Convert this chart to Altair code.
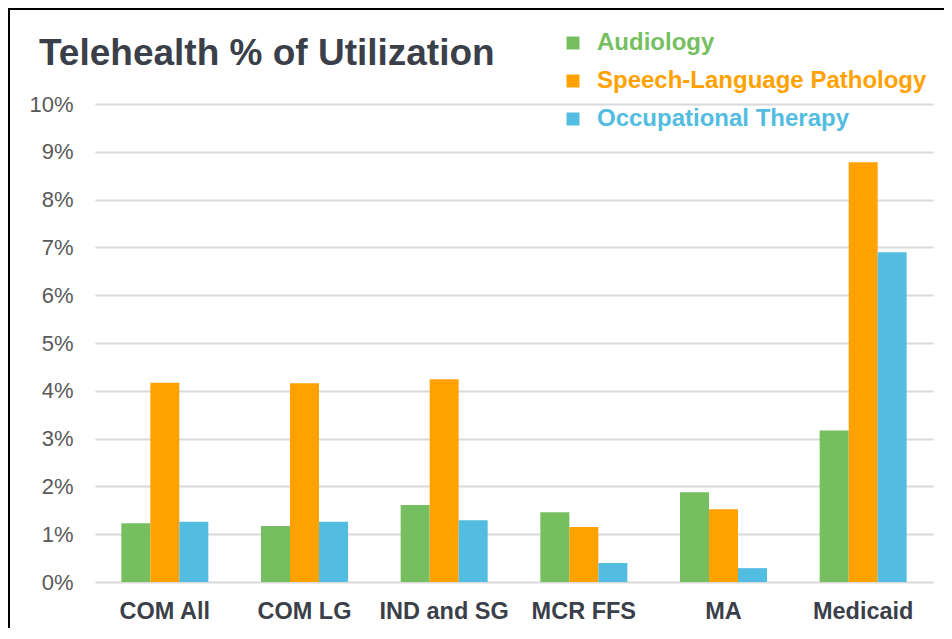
import altair as alt
import pandas as pd

categories = ["COM All", "COM LG", "IND and SG", "MCR FFS", "MA", "Medicaid"]
series = ["Audiology", "Speech-Language Pathology", "Occupational Therapy"]
audiology = [0.0123, 0.0117, 0.0161, 0.0146, 0.0188, 0.0317]
speech = [0.0417, 0.0416, 0.0424, 0.0115, 0.0152, 0.0878]
occupational = [0.0126, 0.0126, 0.0129, 0.0040, 0.0029, 0.0690]
colors = ["#75BF60", "#FFA200", "#52BDE0"]
y_ticks = [i / 100 for i in range(11)]

rows = []
for s, vals in zip(series, [audiology, speech, occupational]):
    for c, v in zip(categories, vals):
        rows.append({"category": c, "series": s, "value": v})
df = pd.DataFrame(rows)

font = "Liberation Sans"
label_expr = (
    f"datum.value == '{series[0]}' ? '{colors[0]}' : "
    f"datum.value == '{series[1]}' ? '{colors[1]}' : '{colors[2]}'"
)

bars = alt.Chart(df).mark_bar().encode(
    x=alt.X(
        "category:N",
        sort=categories,
        title=None,
        scale=alt.Scale(paddingInner=0.377, paddingOuter=0.1885),
        axis=alt.Axis(
            labelAngle=0,
            labelFont=font,
            labelFontSize=23.5,
            labelFontWeight="bold",
            labelColor="#3B3F4A",
            labelPadding=17,
            ticks=False,
            domain=False,
            grid=False,
        ),
    ),
    xOffset=alt.XOffset("series:N", sort=series),
    y=alt.Y(
        "value:Q",
        title=None,
        scale=alt.Scale(domain=[0, 0.10], nice=False),
        axis=alt.Axis(
            values=y_ticks,
            format=".0%",
            labelFont=font,
            labelFontSize=22,
            labelColor="#595959",
            labelPadding=22,
            ticks=False,
            domain=False,
            gridColor="#D9D9D9",
            gridWidth=2,
        ),
    ),
    color=alt.Color(
        "series:N",
        sort=series,
        scale=alt.Scale(domain=series, range=colors),
        legend=alt.Legend(
            title=None,
            orient="none",
            legendX=466,
            legendY=-73,
            symbolType="square",
            symbolSize=169,
            symbolStrokeWidth=0,
            labelFont=font,
            labelFontSize=24,
            labelFontWeight="bold",
            labelColor={"expr": label_expr},
            labelOffset=12,
            rowPadding=14,
            padding=0,
            labelLimit=400,
        ),
    ),
)

frame_top = alt.Chart(pd.DataFrame({"k": [0]})).mark_rule(color="#000000", strokeWidth=2).encode(
    x=alt.value(-88), x2=alt.value(860), y=alt.value(-95)
)
frame_left = alt.Chart(pd.DataFrame({"k": [0]})).mark_rule(color="#000000", strokeWidth=2).encode(
    x=alt.value(-86), y=alt.value(-96), y2=alt.value(540)
)

chart = alt.layer(bars, frame_top, frame_left).properties(
    width=838,
    height=478,
    autosize=alt.AutoSizeParams(type="none"),
    padding={"left": 87, "top": 96, "right": 11, "bottom": 46},
    title=alt.TitleParams(
        "Telehealth % of Utilization",
        anchor="start",
        frame="group",
        dx=-56,
        offset=-95,
        baseline="alphabetic",
        font=font,
        fontSize=37,
        fontWeight="bold",
        color="#3B3F4A",
    ),
).configure_view(stroke=None)

chart.save("out.html", embed_options={"renderer": "svg", "actions": False})
